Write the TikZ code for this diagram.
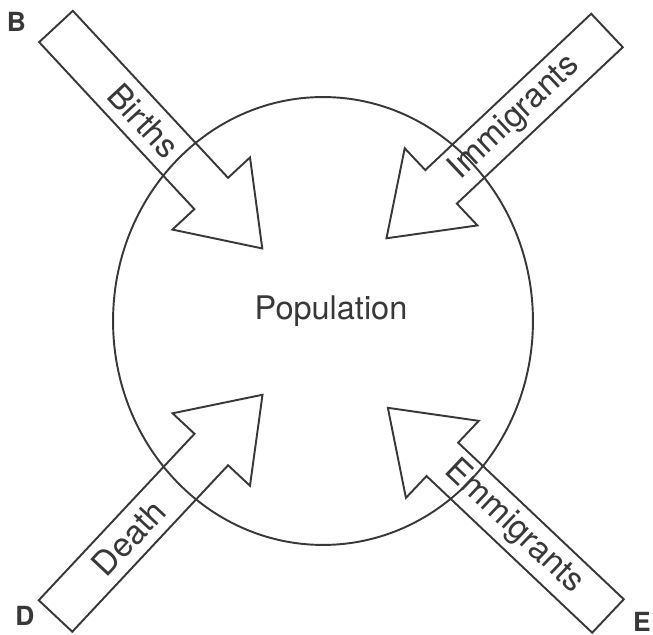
\documentclass[tikz,border=0pt]{standalone}
\usepackage{fontspec}
\setmainfont{TeX Gyre Heros}
\usetikzlibrary{shapes.geometric,calc}
\definecolor{inkgray}{rgb}{0.22,0.22,0.22}
\tikzset{
  popring/.style={draw=inkgray, line width=1.1pt, ellipse, inner sep=0pt, minimum width=8.4cm, minimum height=8.96cm},
  flowarrow/.style={draw=inkgray, line width=1.1pt, line join=miter},
  flowtext/.style={text=inkgray, font=\fontsize{19}{22}\selectfont, inner sep=0pt, transform shape},
  cornertext/.style={text=inkgray, font=\bfseries\fontsize{15}{18}\selectfont, inner sep=0pt}
}

\begin{document}
\begin{tikzpicture}[x=0.02cm,y=0.02cm]
\useasboundingbox (0,0) rectangle (653,635);
\node (pop) [popring] at (323,314) {};
\node (poptext) [text=inkgray, font=\fontsize{18.5}{22}\selectfont] at (331,324) {Population};
% block arrows: tail point / direction / label / label distance / label turn / name
\foreach \tx/\ty/\ang/\txt/\d/\flip/\nm in {
  56/608.5/-47.1/Births/129/0/births,
  607/604.5/-136.7/Immigrants/127/180/immig,
  55.5/19/46.9/Death/107/0/death,
  608/19/136.6/Emmigrants/129.5/180/emmig}{
  \begin{scope}[shift={(\tx,\ty)},rotate=\ang]
    \draw[flowarrow] (0,23) -- (228,23) -- (228,53) -- (303,0) -- (228,-53) -- (228,-23) -- (0,-23) -- cycle;
    \node (\nm) [flowtext, rotate=\flip] at (\d,0) {\txt};
  \end{scope}
}
\node (cB) [cornertext] at (16.5,613) {B};
\node (cD) [cornertext] at (25,19) {D};
\node (cE) [cornertext] at (642,13) {E};
\end{tikzpicture}
\end{document}
